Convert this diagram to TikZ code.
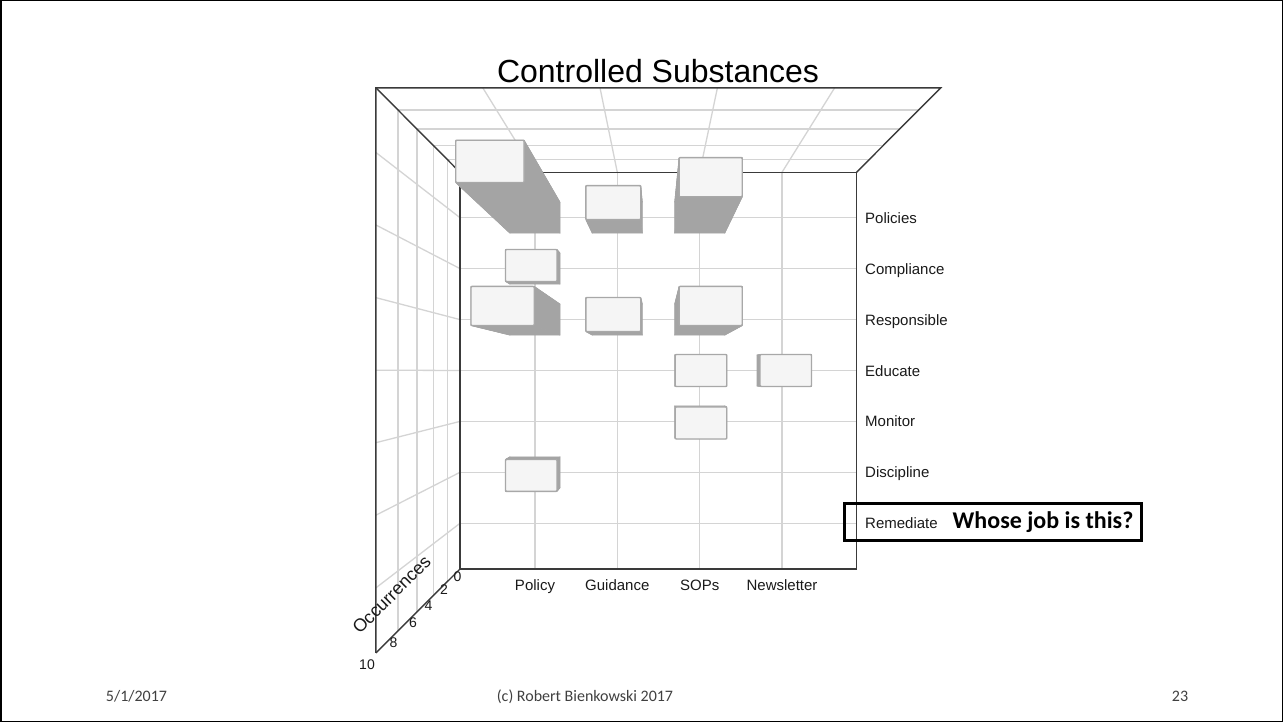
\documentclass[tikz,border=0pt]{standalone}
\usepackage{fontspec}
\setmainfont{Liberation Sans}
\newfontfamily\calib{Carlito}
\usetikzlibrary{calc}
\definecolor{gridc}{HTML}{D4D4D4}
\definecolor{framec}{HTML}{3A3A3A}
\definecolor{sidec}{HTML}{A4A4A4}
\definecolor{facec}{HTML}{F5F5F5}
\definecolor{edgec}{HTML}{A8A8A8}
\definecolor{footc}{HTML}{404040}
\definecolor{labc}{HTML}{1A1A1A}
% perspective: point (x,y) on back wall pushed to depth d
\newcommand{\setpt}[4]{\pgfmathsetmacro\sfac{1/(1-0.0298*(#2))}\coordinate (#1) at ({658+((#3)-658)*\sfac},{371.3+((#4)-371.3)*\sfac});}
\newcommand{\colbar}[3]{%
  \setpt{bTL}{0}{#1-25}{#2-15.5}\setpt{bTR}{0}{#1+25}{#2-15.5}%
  \setpt{bBR}{0}{#1+25}{#2+15.5}\setpt{bBL}{0}{#1-25}{#2+15.5}%
  \setpt{fTL}{#3}{#1-25}{#2-15.5}\setpt{fTR}{#3}{#1+25}{#2-15.5}%
  \setpt{fBR}{#3}{#1+25}{#2+15.5}\setpt{fBL}{#3}{#1-25}{#2+15.5}%
  \filldraw[side] (bTL)--(bTR)--(fTR)--(fTL)--cycle;
  \filldraw[side] (bBL)--(bBR)--(fBR)--(fBL)--cycle;
  \filldraw[side] (bTL)--(bBL)--(fBL)--(fTL)--cycle;
  \filldraw[side] (bTR)--(bBR)--(fBR)--(fTR)--cycle;
  \filldraw[front] (fTL) rectangle (fBR);
}
\begin{document}
\begin{tikzpicture}[x=1pt,y=-1pt,
  grid/.style={draw=gridc,line width=1.3pt},
  frame/.style={draw=framec,line width=1.4pt,line join=miter},
  side/.style={fill=sidec,draw=sidec,line width=0.6pt,line join=round},
  front/.style={fill=facec,draw=edgec,line width=1.3pt,rounded corners=1pt},
  lab/.style={text=labc,font=\fontsize{15}{18}\selectfont,inner sep=0pt},
  num/.style={text=labc,font=\fontsize{14}{16}\selectfont,inner sep=0pt},
  foot/.style={text=footc,font=\calib\fontsize{16}{19}\selectfont,inner sep=0pt,anchor=base}]
\useasboundingbox (0,0) rectangle (1283,722);
\fill[white] (0,0) rectangle (1283,722);
\draw[line width=1.5pt] (0.75,0.75) rectangle (1282.25,721.25);

% ceiling grid
\foreach \d in {2,4,6,8}{\setpt{a}{\d}{460}{172.3}\setpt{b}{\d}{856.5}{172.3}\draw[grid] (a)--(b);}
\foreach \cx in {535,617.3,699.7,782}{\setpt{a}{10}{\cx}{172.3}\draw[grid] (\cx,172.3)--(a);\draw[grid] (\cx,172.3)--(\cx,569);}
% left wall grid
\foreach \d in {2,4,6,8}{\setpt{a}{\d}{460}{172.3}\setpt{b}{\d}{460}{569}\draw[grid] (a)--(b);}
\foreach \ry in {217.7,268.6,319.6,370.5,421.4,472.3,523.3}{\setpt{a}{10}{460}{\ry}\draw[grid] (460,\ry)--(a);\draw[grid] (460,\ry)--(856.5,\ry);}

% frame
\coordinate (iTL) at (460,172.3);
\coordinate (iTR) at (856.5,172.3);
\coordinate (iBR) at (856.5,569);
\coordinate (iBL) at (460,569);
\setpt{oTL}{10}{460}{172.3}
\setpt{oTR}{10}{856.5}{172.3}
\setpt{oBL}{10}{460}{569}
\draw[frame] (oBL)--(oTL)--(oTR)--(iTR);
\draw[frame] (oTL)--(iTL);
\draw[frame] (iBL)--(oBL);
\draw[frame] (iTL)--(iTR)--(iBR)--(iBL)--cycle;

% bars (ascending depth)
\colbar{535}{268.6}{1}
\colbar{699.7}{370.5}{1}
\colbar{782}{370.5}{1}
\colbar{699.7}{421.4}{1}
\colbar{535}{472.3}{1}
\colbar{617.3}{217.7}{3}
\colbar{617.3}{319.6}{3}
\colbar{699.7}{217.7}{7}
\colbar{535}{319.6}{7}
\colbar{699.7}{319.6}{7}
\colbar{535}{217.7}{9}

% title
\node[anchor=base,font=\fontsize{32}{38}\selectfont,inner sep=0pt] (title) at (658,83) {Controlled Substances};

% row labels
\foreach \t/\ry in {Policies/217.7,Compliance/268.6,Responsible/319.6,Educate/370.5,Monitor/421.4,Discipline/472.3,Remediate/523.3}
  {\node[lab,anchor=base west] at (865,\ry+5.5) {\t};}
% column labels
\foreach \t/\cx in {Policy/535,Guidance/617.3,SOPs/699.7,Newsletter/782}
  {\node[lab,anchor=base] at (\cx,590.5) {\t};}
% depth axis
\foreach \t/\px/\py in {0/457.5/577,2/444/590,4/428.5/606,6/413/623,8/393.5/643,10/367/665}
  {\node[num] at (\px,\py) {\t};}
\node[rotate=45,text=labc,font=\fontsize{18}{21}\selectfont,inner sep=0pt] (occ) at (391.5,594.5) {Occurrences};

% callout
\node[draw=black,line width=3pt,minimum width=297pt,minimum height=37pt,inner sep=0pt] (callbox) at (993,522) {};
\node[anchor=west,font=\calib\bfseries\fontsize{24}{28}\selectfont,inner sep=0pt] (whose) at (952.5,522) {Whose job is this?};

% footer
\node[foot] (date) at (136.5,701) {5/1/2017};
\node[foot] (copy) at (585,701) {(c) Robert Bienkowski 2017};
\node[foot] (page) at (1180,701) {23};
\end{tikzpicture}
\end{document}
